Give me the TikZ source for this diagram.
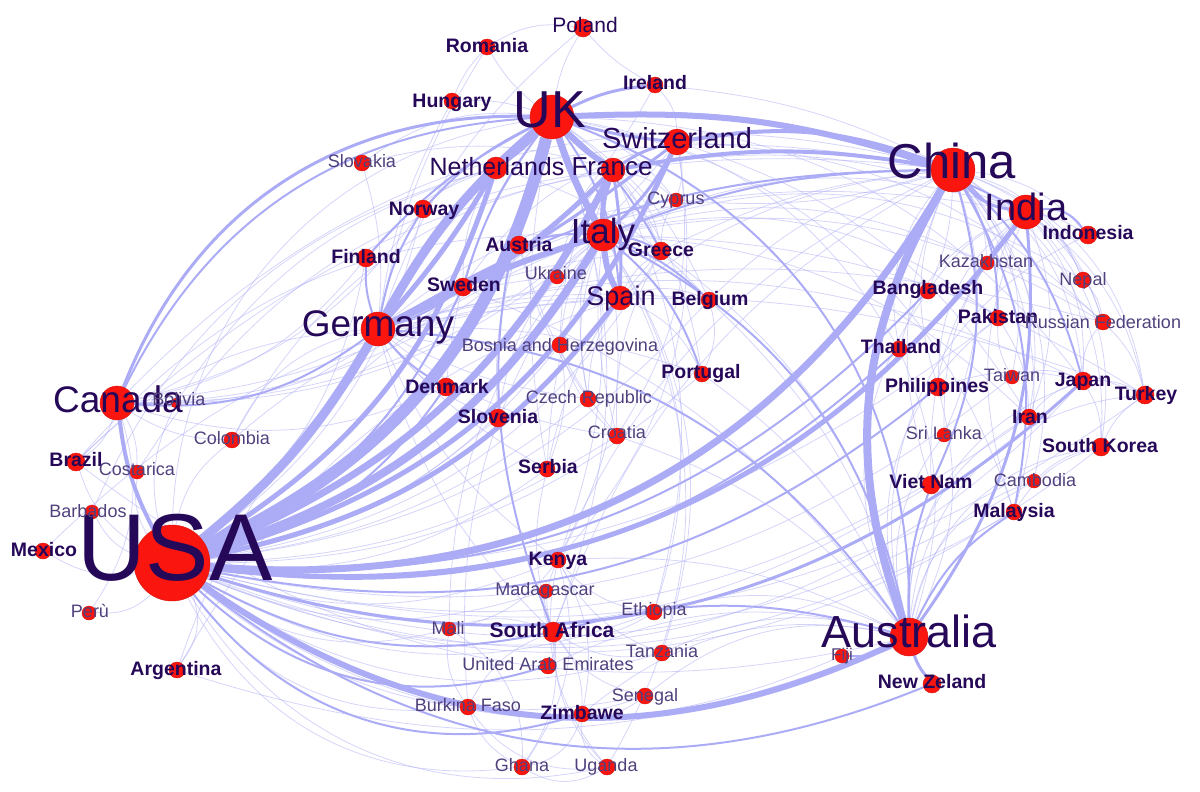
\documentclass[tikz,border=0pt]{standalone}
\usepackage{fontspec}
\setmainfont{Liberation Sans}
\pgfdeclarelayer{edges}
\pgfsetlayers{edges,main}

\definecolor{edgeBlue}{RGB}{172,172,246}
\definecolor{dotRed}{RGB}{250,22,14}
\definecolor{labelDark}{RGB}{38,8,88}
\definecolor{labelLight}{RGB}{80,64,124}

\begin{document}
\begin{tikzpicture}[x=1pt,y=-1pt,%%
  edgeStyle/.style={draw=edgeBlue,line width=#1},%%
  thinEdge/.style={draw=edgeBlue,line width=0.8pt,draw opacity=0.5},%%
  dotStyle/.style={circle,fill=dotRed,draw=dotRed!85!black,line width=0.4pt,inner sep=0pt,minimum size=#1},%%
  bigText/.style={text=labelDark,inner sep=0pt,anchor=base,font=\fontsize{#1}{#1}\selectfont},%%
  boldText/.style={text=labelDark,inner sep=0pt,anchor=base,font=\fontsize{19.5}{20}\selectfont\bfseries},%%
  smallText/.style={text=labelLight,inner sep=0pt,anchor=base,font=\fontsize{18}{18}\selectfont}%%
]
\useasboundingbox (0,0) rectangle (1200,792);
%%
%% Countries (circle size follows the degree).
\node (USA) at (172,563) [dotStyle=76] {};
\node (UK) at (552,117) [dotStyle=44] {};
\node (China) at (953,170) [dotStyle=44] {};
\node (Australia) at (909,637) [dotStyle=38] {};
\node (Germany) at (378,329) [dotStyle=34] {};
\node (Canada) at (117,403) [dotStyle=34] {};
\node (India) at (1026,212) [dotStyle=34] {};
\node (Italy) at (603,235) [dotStyle=32] {};
\node (Switzerland) at (677,142) [dotStyle=26] {};
\node (France) at (613,170) [dotStyle=24] {};
\node (Spain) at (620,298) [dotStyle=24] {};
\node (Netherlands) at (496,168) [dotStyle=22] {};
\node (SouthAfrica) at (553,632) [dotStyle=20] {};
\node (Poland) at (583,28) [dotStyle=18] {};
\node (Romania) at (487,47) [dotStyle=16] {};
\node (Hungary) at (452,101) [dotStyle=16] {};
\node (Ireland) at (655,85) [dotStyle=16] {};
\node (Slovakia) at (362,163) [dotStyle=16] {};
\node (Cyprus) at (676,200) [dotStyle=14] {};
\node (Norway) at (423,209) [dotStyle=18] {};
\node (Austria) at (519,245) [dotStyle=18] {};
\node (Greece) at (661,251) [dotStyle=18] {};
\node (Finland) at (366,258) [dotStyle=18] {};
\node (Ukraine) at (557,277) [dotStyle=14] {};
\node (Sweden) at (463,287) [dotStyle=18] {};
\node (Belgium) at (709,300) [dotStyle=16] {};
\node (Bosnia) at (560,345) [dotStyle=16] {};
\node (Portugal) at (702,374) [dotStyle=16] {};
\node (Denmark) at (446,387) [dotStyle=18] {};
\node (Czech) at (588,399) [dotStyle=16] {};
\node (Slovenia) at (498,418) [dotStyle=18] {};
\node (Croatia) at (617,436) [dotStyle=16] {};
\node (Serbia) at (547,469) [dotStyle=16] {};
\node (Bolivia) at (176,403) [dotStyle=10] {};
\node (Colombia) at (232,440) [dotStyle=16] {};
\node (Brazil) at (76,462) [dotStyle=18] {};
\node (Costarica) at (137,472) [dotStyle=14] {};
\node (Barbados) at (92,512) [dotStyle=14] {};
\node (Mexico) at (43,551) [dotStyle=16] {};
\node (Peru) at (89,613) [dotStyle=14] {};
\node (Argentina) at (177,670) [dotStyle=16] {};
\node (Kenya) at (558,560) [dotStyle=16] {};
\node (Madagascar) at (546,591) [dotStyle=14] {};
\node (Ethiopia) at (654,612) [dotStyle=16] {};
\node (Mali) at (449,629) [dotStyle=14] {};
\node (Tanzania) at (662,653) [dotStyle=16] {};
\node (UAE) at (548,666) [dotStyle=16] {};
\node (Senegal) at (645,696) [dotStyle=16] {};
\node (Burkina) at (468,707) [dotStyle=16] {};
\node (Zimbawe) at (582,714) [dotStyle=16] {};
\node (Ghana) at (522,767) [dotStyle=16] {};
\node (Uganda) at (607,767) [dotStyle=16] {};
\node (Indonesia) at (1088,235) [dotStyle=18] {};
\node (Kazakhstan) at (987,263) [dotStyle=14] {};
\node (Nepal) at (1083,280) [dotStyle=16] {};
\node (Bangladesh) at (928,291) [dotStyle=16] {};
\node (Pakistan) at (998,318) [dotStyle=16] {};
\node (Russia) at (1103,322) [dotStyle=16] {};
\node (Thailand) at (899,349) [dotStyle=16] {};
\node (Philippines) at (938,387) [dotStyle=18] {};
\node (Taiwan) at (1012,377) [dotStyle=14] {};
\node (Japan) at (1083,381) [dotStyle=18] {};
\node (Turkey) at (1145,395) [dotStyle=18] {};
\node (Iran) at (1029,417) [dotStyle=16] {};
\node (SriLanka) at (944,435) [dotStyle=14] {};
\node (SouthKorea) at (1101,447) [dotStyle=18] {};
\node (VietNam) at (931,485) [dotStyle=18] {};
\node (Cambodia) at (1034,481) [dotStyle=14] {};
\node (Malaysia) at (1014,512) [dotStyle=16] {};
\node (Fiji) at (842,656) [dotStyle=14] {};
\node (NewZeland) at (932,684) [dotStyle=18] {};
%%
%% Names of the countries.
\node (USAtext) at (175,580) [bigText=95] {USA};
\node (UKtext) at (550,127) [bigText=52] {UK};
\node (Chinatext) at (952,178) [bigText=49] {China};
\node (Australiatext) at (909,647) [bigText=45] {Australia};
\node (Germanytext) at (378,336) [bigText=37] {Germany};
\node (Canadatext) at (118,412) [bigText=37] {Canada};
\node (Indiatext) at (1026,220) [bigText=38] {India};
\node (Italytext) at (603,243) [bigText=35] {Italy};
\node (Switzerlandtext) at (677,148) [bigText=29] {Switzerland};
\node (Francetext) at (612,175) [bigText=26] {France};
\node (Spaintext) at (621,305) [bigText=27] {Spain};
\node (Netherlandstext) at (497,175) [bigText=25] {Netherlands};
\node (Polandtext) at (585,33) [bigText=21] {Poland};
\node (Romaniatext) at (487,53) [boldText] {Romania};
\node (Hungarytext) at (452,107) [boldText] {Hungary};
\node (Irelandtext) at (655,89) [boldText] {Ireland};
\node (Norwaytext) at (424,215) [boldText] {Norway};
\node (Austriatext) at (519,251) [boldText] {Austria};
\node (Greecetext) at (661,256) [boldText] {Greece};
\node (Finlandtext) at (366,263) [boldText] {Finland};
\node (Swedentext) at (464,291) [boldText] {Sweden};
\node (Belgiumtext) at (710,305) [boldText] {Belgium};
\node (Portugaltext) at (701,378) [boldText] {Portugal};
\node (Denmarktext) at (447,393) [boldText] {Denmark};
\node (Sloveniatext) at (498,423) [boldText] {Slovenia};
\node (Serbiatext) at (548,473) [boldText] {Serbia};
\node (Braziltext) at (76,466) [boldText] {Brazil};
\node (Mexicotext) at (44,556) [boldText] {Mexico};
\node (Argentinatext) at (176,675) [boldText] {Argentina};
\node (Kenyatext) at (558,565) [boldText] {Kenya};
\node (SouthAfricatext) at (552,637) [boldText,font=\fontsize{21}{21}\selectfont\bfseries] {South Africa};
\node (Zimbawetext) at (582,719) [boldText] {Zimbawe};
\node (Indonesiatext) at (1088,239) [boldText] {Indonesia};
\node (Bangladeshtext) at (928,294) [boldText] {Bangladesh};
\node (Pakistantext) at (998,323) [boldText] {Pakistan};
\node (Thailandtext) at (901,353) [boldText] {Thailand};
\node (Philippinestext) at (937,392) [boldText] {Philippines};
\node (Japantext) at (1083,386) [boldText] {Japan};
\node (Turkeytext) at (1146,400) [boldText] {Turkey};
\node (Irantext) at (1030,423) [boldText] {Iran};
\node (SouthKoreatext) at (1100,452) [boldText] {South Korea};
\node (VietNamtext) at (931,488) [boldText] {Viet Nam};
\node (Malaysiatext) at (1014,517) [boldText] {Malaysia};
\node (NewZelandtext) at (932,688) [boldText] {New Zeland};
\node (Slovakiatext) at (362,167) [smallText] {Slovakia};
\node (Cyprustext) at (676,204) [smallText] {Cyprus};
\node (Ukrainetext) at (556,279) [smallText] {Ukraine};
\node (Bosniatext) at (560,351) [smallText] {Bosnia and Herzegovina};
\node (Czechtext) at (589,403) [smallText] {Czech Republic};
\node (Croatiatext) at (617,438) [smallText] {Croatia};
\node (Boliviatext) at (179,405) [smallText] {Bolivia};
\node (Colombiatext) at (232,444) [smallText] {Colombia};
\node (Costaricatext) at (137,475) [smallText] {Costarica};
\node (Barbadostext) at (88,517) [smallText] {Barbados};
\node (Perutext) at (90,617) [smallText] {Perù};
\node (Madagascartext) at (545,595) [smallText] {Madagascar};
\node (Ethiopiatext) at (654,615) [smallText] {Ethiopia};
\node (Malitext) at (448,634) [smallText] {Mali};
\node (Tanzaniatext) at (662,657) [smallText] {Tanzania};
\node (UAEtext) at (548,670) [smallText] {United Arab Emirates};
\node (Senegaltext) at (645,701) [smallText] {Senegal};
\node (Burkinatext) at (468,711) [smallText] {Burkina Faso};
\node (Ghanatext) at (522,771) [smallText] {Ghana};
\node (Ugandatext) at (606,771) [smallText] {Uganda};
\node (Kazakhstantext) at (986,267) [smallText] {Kazakhstan};
\node (Nepaltext) at (1083,285) [smallText] {Nepal};
\node (Russiatext) at (1103,328) [smallText] {Russian Federation};
\node (Taiwantext) at (1012,381) [smallText] {Taiwan};
\node (SriLankatext) at (944,439) [smallText] {Sri Lanka};
\node (Cambodiatext) at (1035,486) [smallText] {Cambodia};
\node (Fijitext) at (842,660) [smallText,font=\fontsize{17}{17}\selectfont] {Fiji};
%%
%% Collaborations, drawn below the countries.
\begin{pgfonlayer}{edges}
%% Thin links.
\draw[thinEdge] (UK) edge[bend right=35] (Canada) edge[bend right=40] (USA) edge[bend right=20] (Slovakia)
  edge[bend right=10] (Hungary) edge[bend left=10] (Romania) edge[bend left=10] (Poland)
  edge[bend right=15] (Denmark) edge[bend right=10] (Serbia) edge[bend right=10] (Slovenia)
  edge[bend left=15] (Belgium) edge[bend left=20] (Portugal) edge[bend left=25] (Japan)
  edge[bend left=20] (Kenya) edge[bend left=20] (SouthAfrica) edge[bend left=30] (Malaysia)
  edge[bend left=25] (Thailand) edge[bend left=15] (Cyprus) edge[bend left=15] (Greece);
\draw[thinEdge] (USA) edge[bend right=20] (Kenya) edge[bend right=25] (Mali) edge[bend right=30] (Burkina)
  edge[bend right=35] (Ghana) edge[bend right=35] (Uganda) edge[bend right=25] (Tanzania)
  edge[bend right=25] (Ethiopia) edge[bend right=25] (Senegal) edge[bend right=20] (Madagascar)
  edge[bend right=20] (Serbia) edge[bend right=15] (Croatia) edge[bend right=15] (Czech)
  edge[bend right=15] (Slovenia) edge[bend right=20] (Bosnia) edge[bend right=20] (Portugal)
  edge[bend right=20] (Belgium) edge[bend right=25] (Greece) edge[bend right=25] (Taiwan)
  edge[bend right=30] (SouthKorea) edge[bend right=25] (Iran) edge[bend right=25] (VietNam)
  edge[bend right=25] (Malaysia) edge[bend right=25] (Cambodia) edge[bend right=30] (Fiji)
  edge[bend left=20] (Colombia) edge[bend left=20] (Brazil) edge[bend left=20] (Costarica)
  edge[bend left=20] (Barbados) edge[bend left=20] (Mexico) edge[bend left=25] (Peru)
  edge[bend left=20] (Bolivia) edge[bend left=30] (Argentina) edge[bend right=20] (Sweden)
  edge[bend right=20] (Finland) edge[bend right=20] (Norway) edge[bend right=20] (Austria)
  edge[bend right=35] (Japan) edge[bend right=20] (Pakistan) edge[bend right=25] (Turkey);
\draw[thinEdge] (Italy) edge[bend right=10] (Ukraine) edge[bend right=15] (Bosnia) edge[bend right=15] (Czech)
  edge[bend right=10] (Croatia) edge[bend right=10] (Serbia) edge[bend right=20] (Slovenia)
  edge[bend left=15] (Cyprus) edge[bend left=20] (Kenya) edge[bend left=25] (Ethiopia)
  edge[bend left=25] (Tanzania) edge[bend left=30] (Uganda) edge[bend right=25] (Brazil)
  edge[bend right=25] (Argentina) edge[bend right=20] (Mali) edge[bend right=20] (Burkina)
  edge[bend left=20] (Iran) edge[bend left=15] (Turkey) edge[bend left=20] (Russia)
  edge[bend left=20] (Kazakhstan) edge[bend left=25] (Nepal) edge[bend left=25] (Pakistan);
\draw[thinEdge] (China) edge[bend left=15] (Kazakhstan) edge[bend left=25] (Nepal) edge[bend left=20] (Indonesia)
  edge[bend left=10] (Bangladesh) edge[bend left=15] (Pakistan) edge[bend left=25] (Russia)
  edge[bend left=25] (Taiwan) edge[bend left=25] (Japan) edge[bend left=30] (Turkey)
  edge[bend left=25] (Iran) edge[bend left=30] (SouthKorea) edge[bend left=25] (Cambodia)
  edge[bend left=20] (SriLanka) edge[bend left=25] (Malaysia) edge[bend right=20] (Philippines)
  edge[bend right=20] (VietNam) edge[bend right=25] (Thailand) edge[bend right=20] (Kenya)
  edge[bend right=20] (SouthAfrica) edge[bend left=10] (Cyprus) edge[bend right=10] (Greece)
  edge[bend right=15] (Spain) edge[bend right=15] (Belgium) edge[bend right=25] (Brazil)
  edge[bend right=30] (Canada) edge[bend right=10] (Netherlands) edge[bend right=10] (Ireland);
\draw[thinEdge] (Australia) edge[bend right=20] (Philippines) edge[bend right=20] (Thailand) edge[bend left=25] (SriLanka)
  edge[bend left=30] (Iran) edge[bend left=35] (Japan) edge[bend left=35] (SouthKorea)
  edge[bend left=30] (Cambodia) edge[bend left=40] (Indonesia) edge[bend left=40] (Turkey)
  edge[bend left=35] (Pakistan) edge[bend left=30] (Bangladesh) edge[bend right=15] (Kenya)
  edge[bend right=20] (Tanzania) edge[bend right=20] (Ethiopia) edge[bend right=25] (Senegal)
  edge[bend right=25] (Zimbawe) edge[bend right=20] (UAE) edge[bend right=15] (Portugal)
  edge[bend right=15] (Belgium) edge[bend right=20] (Greece) edge[bend right=15] (Croatia)
  edge[bend left=20] (Argentina) edge[bend left=25] (Brazil) edge[bend right=15] (Sweden);
\draw[thinEdge] (Germany) edge[bend right=10] (Slovakia) edge[bend left=15] (Poland) edge[bend left=10] (Hungary)
  edge[bend left=10] (Romania) edge[bend left=10] (Ukraine) edge[bend right=10] (Bosnia)
  edge[bend right=10] (Czech) edge[bend right=15] (Croatia) edge[bend right=10] (Serbia)
  edge[bend right=15] (Slovenia) edge[bend left=10] (Greece) edge[bend left=10] (Belgium)
  edge[bend left=10] (Portugal) edge[bend left=15] (Cyprus) edge[bend right=25] (Colombia)
  edge[bend right=20] (Brazil) edge[bend right=15] (Kenya) edge[bend right=15] (SouthAfrica)
  edge[bend left=15] (Russia) edge[bend left=15] (Turkey) edge[bend left=20] (Japan);
\draw[thinEdge] (SouthAfrica) edge[bend left=20] (Kenya) edge[bend left=20] (Madagascar) edge[bend right=20] (Mali)
  edge[bend right=20] (Burkina) edge[bend left=20] (Ghana) edge[bend right=20] (Uganda)
  edge[bend right=20] (Tanzania) edge[bend left=20] (Zimbawe) edge[bend right=20] (Ethiopia)
  edge[bend right=20] (Senegal) edge[bend left=20] (UAE) edge[bend left=15] (Serbia);
\draw[thinEdge] (Kenya) edge[bend right=25] (Uganda) edge[bend left=25] (Ghana) edge[bend right=20] (Tanzania)
  edge[bend left=20] (Mali) edge[bend left=20] (Zimbawe) edge[bend right=20] (Ethiopia);
\draw[thinEdge] (Burkina) edge[bend right=20] (Ghana) edge[bend right=30] (Uganda) edge[bend left=20] (Mali)
  edge[bend right=15] (Senegal) (Ghana) edge[bend right=30] (Uganda) (Zimbawe) edge[bend left=30] (Ghana)
  edge[bend right=30] (Uganda) edge[bend right=20] (Senegal) (Mali) edge[bend left=30] (Ghana);
\draw[thinEdge] (India) edge[bend right=15] (Bangladesh) edge[bend right=20] (Pakistan) edge[bend left=15] (Nepal)
  edge[bend right=20] (SriLanka) edge[bend right=20] (Malaysia) edge[bend left=20] (Japan)
  edge[bend left=15] (Russia) edge[bend left=20] (Turkey) edge[bend right=25] (Thailand)
  edge[bend right=25] (Philippines) edge[bend left=10] (Indonesia) edge[bend right=10] (Kazakhstan)
  edge[bend left=20] (Iran) edge[bend left=25] (SouthKorea) edge[bend right=20] (VietNam)
  edge[bend right=20] (Italy) edge[bend right=15] (France) edge[bend right=20] (Germany);
\draw[thinEdge] (Japan) edge[bend right=20] (Taiwan) edge[bend left=15] (Turkey) edge[bend left=15] (SouthKorea)
  edge[bend right=15] (Iran) edge[bend right=15] (Philippines) edge[bend left=20] (Russia)
  (SouthKorea) edge[bend right=20] (Malaysia) edge[bend right=15] (Cambodia) edge[bend left=15] (Turkey)
  (Russia) edge[bend left=15] (Turkey) edge[bend right=15] (Nepal) edge[bend right=15] (Kazakhstan)
  (Pakistan) edge[bend right=15] (Bangladesh) edge[bend right=15] (Taiwan) edge[bend left=15] (Iran);
\draw[thinEdge] (France) edge[bend right=15] (Bosnia) edge[bend right=15] (Czech) edge[bend right=15] (Ukraine)
  edge[bend left=15] (Cyprus) edge[bend left=20] (Greece) edge[bend right=15] (Slovakia)
  edge[bend right=25] (Colombia) edge[bend right=25] (Costarica) edge[bend left=20] (Ethiopia)
  (Switzerland) edge[bend left=15] (Cyprus) edge[bend left=20] (Croatia) edge[bend right=20] (Sweden)
  edge[bend left=20] (Iran) edge[bend left=20] (Russia) edge[bend left=25] (Kenya)
  (Spain) edge[bend left=20] (Portugal) edge[bend right=15] (Czech) edge[bend right=20] (Argentina)
  edge[bend right=20] (Mexico) edge[bend right=20] (Colombia) edge[bend left=15] (Greece)
  (Netherlands) edge[bend right=15] (Sweden) edge[bend right=15] (Norway) edge[bend right=15] (Finland)
  edge[bend left=15] (Belgium) edge[bend right=25] (Barbados) edge[bend right=20] (Bolivia);
\draw[thinEdge] (Canada) edge[bend left=20] (Brazil) edge[bend left=15] (Costarica) edge[bend left=25] (Peru)
  edge[bend right=15] (Colombia) edge[bend right=20] (Finland) edge[bend right=20] (Norway)
  edge[bend right=20] (France) edge[bend right=20] (Italy) edge[bend right=25] (Switzerland)
  edge[bend right=20] (Denmark) edge[bend right=20] (Sweden) edge[bend right=30] (Ireland);
\draw[thinEdge] (Greece) edge[bend left=15] (Cyprus) edge[bend right=15] (Croatia) edge[bend right=15] (Serbia)
  (Austria) edge[bend right=10] (Slovenia) edge[bend right=10] (Croatia) edge[bend right=10] (Czech)
  (Belgium) edge[bend left=20] (Portugal) edge[bend right=20] (Spain) (Ireland) edge[bend right=20] (Netherlands)
  edge[bend left=20] (Switzerland) edge[bend left=10] (Poland) (Poland) edge[bend right=20] (Romania)
  (Romania) edge[bend right=10] (Hungary) (Bosnia) edge[bend right=15] (Croatia) edge[bend left=15] (Serbia);
%%
%% Medium links.
\draw[edgeStyle=2] (UK) edge[bend right=10] (Norway) edge[bend right=10] (Finland) edge[bend right=10] (Sweden)
  edge[bend right=5] (Austria) edge[bend left=10] (Greece) edge[bend left=15] (Spain)
  edge[bend left=15] (India) edge[bend left=35] (Australia) edge[bend right=20] (SouthAfrica)
  edge[bend right=30] (Canada);
\draw[edgeStyle=2] (USA) edge[bend right=20] (Denmark) edge[bend right=25] (Thailand) edge[bend right=25] (Philippines)
  edge[bend right=30] (NewZeland) edge[bend right=20] (SouthAfrica) edge[bend right=25] (Bangladesh)
  edge[bend right=35] (Zimbawe) edge[bend right=30] (UAE) edge[bend right=20] (Sweden);
\draw[edgeStyle=2] (China) edge[bend right=15] (Germany) edge[bend right=10] (Italy) edge[bend left=20] (Malaysia)
  edge[bend left=20] (VietNam) edge[bend left=15] (Japan) edge[bend left=15] (Pakistan)
  (Australia) edge[bend left=15] (Malaysia) edge[bend left=10] (VietNam) edge[bend right=25] (Italy)
  edge[bend right=25] (Germany) edge[bend right=15] (SouthAfrica) edge[bend left=15] (Fiji)
  (Italy) edge[bend left=10] (Greece) edge[bend left=10] (Belgium) edge[bend left=15] (Portugal)
  edge[bend right=10] (Austria) (Germany) edge[bend right=10] (Austria) edge[bend right=10] (Sweden)
  edge[bend right=10] (Denmark) edge[bend left=10] (Finland) edge[bend left=10] (Norway)
  (Canada) edge[bend right=20] (Germany) (India) edge[bend left=30] (Indonesia);
\draw[edgeStyle=3] (UK) edge[bend right=35] (Canada) edge[bend left=10] (Ireland) edge[bend right=5] (Switzerland)
  (Australia) edge[bend right=10] (NewZeland) (China) edge[bend right=20] (India)
  (France) edge[bend left=10] (Switzerland) (Italy) edge[bend right=10] (Switzerland)
  (USA) edge[bend right=30] (Japan) (India) edge[bend left=20] (Australia)
  (Germany) edge[bend right=5] (Switzerland) (Spain) edge[bend right=5] (France);
%%
%% Heavy links.
\draw[edgeStyle=4] (USA) to[bend left=10] (Canada);
\draw[edgeStyle=4] (China) to[bend right=15] (Switzerland);
\draw[edgeStyle=4] (China) to[bend right=10] (France);
\draw[edgeStyle=5] (USA) to[bend right=30] (India);
\draw[edgeStyle=5] (USA) to[bend right=25] (Switzerland);
\draw[edgeStyle=5] (USA) to[bend right=20] (Netherlands);
\draw[edgeStyle=5] (USA) to[bend right=20] (Spain);
\draw[edgeStyle=5] (Germany) to[bend right=5] (Netherlands);
\draw[edgeStyle=5] (Germany) to[bend right=10] (France);
\draw[edgeStyle=5] (UK) to[bend left=5] (Netherlands);
\draw[edgeStyle=5] (Italy) to[bend left=10] (France);
\draw[edgeStyle=6] (Italy) to[bend right=10] (Spain);
\draw[edgeStyle=6] (Germany) to[bend left=5] (Italy);
\draw[edgeStyle=6] (UK) to[bend left=10] (China);
\draw[edgeStyle=6] (USA) to[bend right=30] (Australia);
\draw[edgeStyle=6] (UK) to[bend right=5] (France);
\draw[edgeStyle=7] (USA) to[bend right=20] (France);
\draw[edgeStyle=7] (UK) to[bend right=5] (Italy);
\draw[edgeStyle=7] (USA) to[bend right=32] (China);
\draw[edgeStyle=8] (China) to[bend right=25] (Australia);
\draw[edgeStyle=8] (USA) to[bend right=20] (Italy);
\draw[edgeStyle=9] (UK) to[bend right=10] (Germany);
\draw[edgeStyle=9] (USA) to[bend right=10] (Germany);
\draw[edgeStyle=12] (USA) to[bend right=25] (UK);
\end{pgfonlayer}
\end{tikzpicture}
\end{document}
